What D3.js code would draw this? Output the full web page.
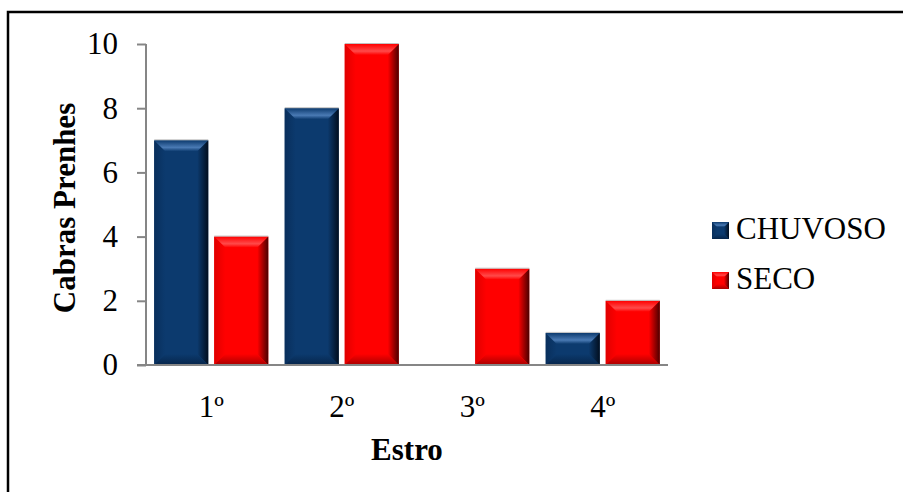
<!DOCTYPE html>
<html><head><meta charset="utf-8">
<script src="https://cdn.jsdelivr.net/npm/d3@7"></script>
<style>body{margin:0;background:#fff}svg{display:block}</style>
</head><body>
<script>
const categories = ["1º","2º","3º","4º"];
const seriesNames = ["CHUVOSO","SECO"];
const chuvoso = [7, 8, 0, 1];
const seco = [4, 10, 3, 2];
const yTicks = [0, 2, 4, 6, 8, 10];
const yTitle = "Cabras Prenhes";
const xTitle = "Estro";

const W = 903, H = 492;
const FONT = "'Liberation Serif', 'Times New Roman', Times, serif";
const svg = d3.select("body").append("svg").attr("width", W).attr("height", H);
const defs = svg.append("defs");

const pal = {
  CHUVOSO: {base:"#0c3a6e", light:"#4a7ab4", dark:"#06254a", edge:"#020e1e", left:"#092f5c"},
  SECO: {base:"#ff0000", light:"#ff4a4a", dark:"#a80000", edge:"#4a0000", left:"#e00000"}
};
seriesNames.forEach((s,i)=>{
  const p = pal[s];
  const gR = defs.append("linearGradient").attr("id","gr"+i).attr("x1",0).attr("x2",1).attr("y1",0).attr("y2",0);
  gR.append("stop").attr("offset",0).attr("stop-color",p.base);
  gR.append("stop").attr("offset",1).attr("stop-color",p.edge);
  const gT = defs.append("linearGradient").attr("id","gt"+i).attr("x1",0).attr("x2",0).attr("y1",0).attr("y2",1);
  gT.append("stop").attr("offset",0).attr("stop-color",p.base);
  gT.append("stop").attr("offset",0.65).attr("stop-color",p.light);
  gT.append("stop").attr("offset",1).attr("stop-color",p.base);
  const gB = defs.append("linearGradient").attr("id","gb"+i).attr("x1",0).attr("x2",0).attr("y1",0).attr("y2",1);
  gB.append("stop").attr("offset",0).attr("stop-color",p.base);
  gB.append("stop").attr("offset",1).attr("stop-color",p.dark);
  const gL = defs.append("linearGradient").attr("id","gl"+i).attr("x1",0).attr("x2",1).attr("y1",0).attr("y2",0);
  gL.append("stop").attr("offset",0).attr("stop-color",p.left);
  gL.append("stop").attr("offset",1).attr("stop-color",p.base);
});

// outer border
svg.append("path").attr("d","M8,492 L8,12 L903,12").attr("fill","none").attr("stroke","#000").attr("stroke-width",2.5);

const x0 = d3.scaleBand().domain(categories).range([146, 668]).paddingInner(0.126).paddingOuter(0.063);
const x1 = d3.scaleBand().domain(seriesNames).range([0, x0.bandwidth()]).paddingInner(0.1);
const y = d3.scaleLinear().domain([0, 10]).range([365, 44]);

const data = categories.map((c,i)=>({cat:c, vals:[{s:"CHUVOSO", v:chuvoso[i], i:0},{s:"SECO", v:seco[i], i:1}]}));

function drawBevel(g, x, yTop, w, h, idx, b){
  if (h <= 0) return;
  b = Math.min(b, h/2, w/2);
  const pts = a => a.map(p=>p.join(",")).join(" ");
  g.append("rect").attr("x",x).attr("y",yTop).attr("width",w).attr("height",h).attr("fill",pal[seriesNames[idx]].base);
  g.append("polygon").attr("points",pts([[x,yTop],[x+b,yTop+b],[x+b,yTop+h-b],[x,yTop+h]])).attr("fill",`url(#gl${idx})`);
  g.append("polygon").attr("points",pts([[x+w,yTop],[x+w-b,yTop+b],[x+w-b,yTop+h-b],[x+w,yTop+h]])).attr("fill",`url(#gr${idx})`);
  g.append("polygon").attr("points",pts([[x,yTop],[x+w,yTop],[x+w-b,yTop+b],[x+b,yTop+b]])).attr("fill",`url(#gt${idx})`);
  g.append("polygon").attr("points",pts([[x,yTop+h],[x+w,yTop+h],[x+w-b,yTop+h-b],[x+b,yTop+h-b]])).attr("fill",`url(#gb${idx})`);
}

const bars = svg.append("g");
data.forEach(d=>{
  d.vals.forEach(v=>{
    if (v.v <= 0) return;
    const bx = x0(d.cat) + x1(v.s);
    const by = y(v.v);
    const bh = y(0) - y(v.v);
    const g = bars.append("g");
    drawBevel(g, bx, by, x1.bandwidth(), bh, v.i, 11);
    g.append("line").attr("x1",bx).attr("x2",bx+x1.bandwidth()).attr("y1",by-0.5).attr("y2",by-0.5).attr("stroke","#c0c0c0").attr("stroke-width",1);
  });
});

// axes
const yAxis = d3.axisLeft(y).tickValues(yTicks).tickSize(9).tickPadding(19).tickFormat(d3.format("d"));
const gy = svg.append("g").attr("transform","translate(146,0)").call(yAxis);
gy.select(".domain").attr("stroke","#868686").attr("stroke-width",2).attr("d","M0,44V365");
gy.selectAll(".tick line").attr("stroke","#868686").attr("stroke-width",2);
gy.selectAll(".tick text").attr("font-family",FONT).attr("font-size",31).attr("fill","#000");

const xAxis = d3.axisBottom(x0).tickSize(0).tickPadding(30);
const gx = svg.append("g").attr("transform","translate(0,365)").call(xAxis);
gx.select(".domain").attr("stroke","#868686").attr("stroke-width",2).attr("d","M137,0H668");
gx.selectAll(".tick text").attr("font-family",FONT).attr("font-size",31).attr("fill","#000");

// titles
svg.append("text").attr("transform","translate(75,208) rotate(-90)").attr("text-anchor","middle")
  .attr("font-family",FONT).attr("font-size",31).attr("font-weight","bold").text(yTitle);
svg.append("text").attr("x",407).attr("y",460).attr("text-anchor","middle")
  .attr("font-family",FONT).attr("font-size",31).attr("font-weight","bold").text(xTitle);

// legend
const leg = svg.append("g");
seriesNames.forEach((s,i)=>{
  const ly = 222 + i*50;
  const g = leg.append("g");
  drawBevel(g, 712, ly, 17, 17, i, 5);
  g.append("text").attr("x",736).attr("y",ly+17).attr("font-family",FONT)
    .attr("font-size",31).attr("fill","#000").text(s);
});
</script>
</body></html>
